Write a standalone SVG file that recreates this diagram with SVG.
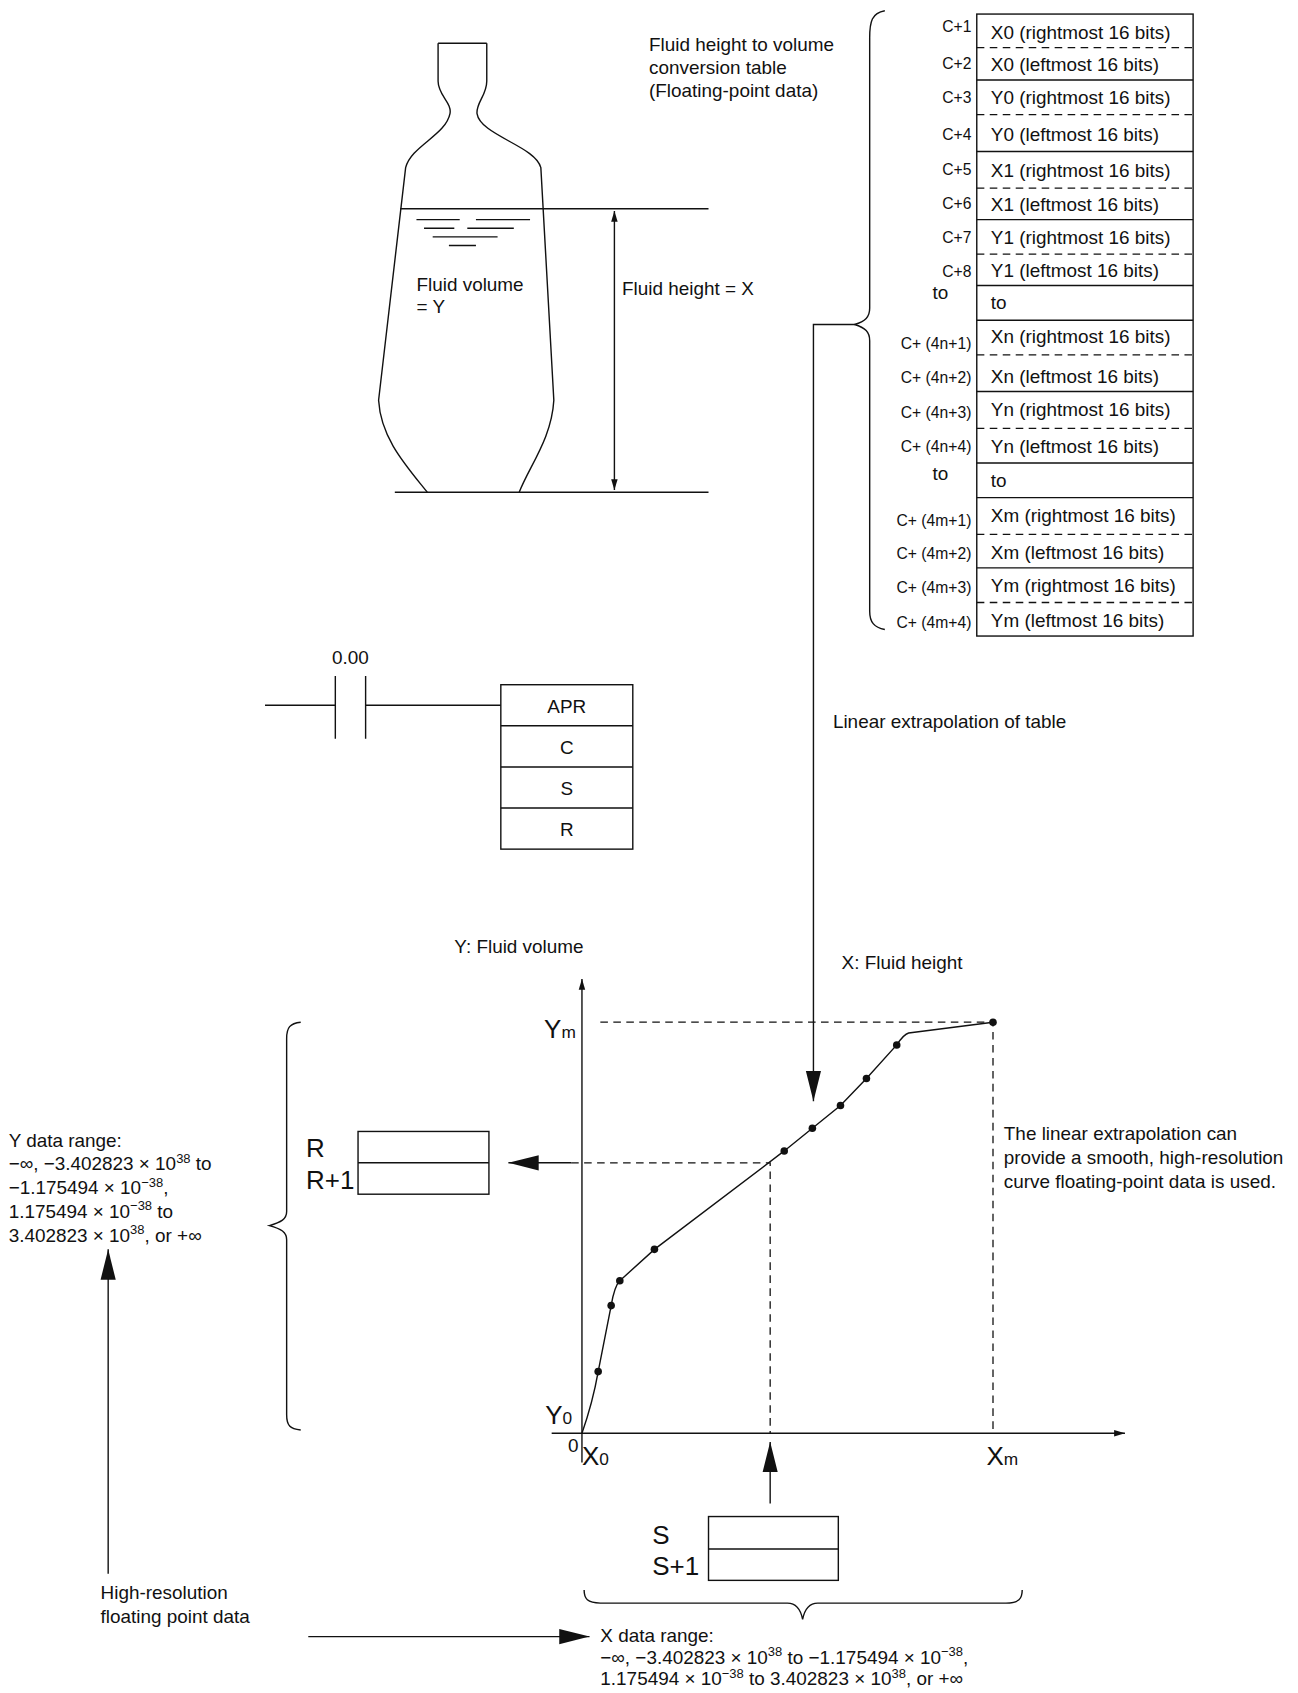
<svg xmlns="http://www.w3.org/2000/svg" width="1298" height="1693" viewBox="0 0 1298 1693">
<style>
text{font-family:"Liberation Sans",Arial,sans-serif;font-size:17.5px;fill:#111}
.l{fill:none;stroke:#111;stroke-width:1.3}
.d{fill:none;stroke:#111;stroke-width:1.2;stroke-dasharray:7,5}
.c{font-size:14.5px;text-anchor:end}
.m{text-anchor:middle}
.big{font-size:24px}
</style>
<defs>
<marker id="a" viewBox="0 0 10 10" refX="10" refY="5" markerWidth="10" markerHeight="10" markerUnits="userSpaceOnUse" orient="auto"><path d="M0,2 L10,5 L0,8 z" fill="#111"/></marker>
<marker id="A" viewBox="0 0 10 10" refX="10" refY="5" markerWidth="28" markerHeight="28" markerUnits="userSpaceOnUse" orient="auto"><path d="M0,2.5 L10,5 L0,7.5 z" fill="#111"/></marker>
<marker id="as" viewBox="0 0 10 10" refX="0" refY="5" markerWidth="10" markerHeight="10" markerUnits="userSpaceOnUse" orient="auto"><path d="M10,2 L0,5 L10,8 z" fill="#111"/></marker>
</defs>
<rect width="1298" height="1693" fill="#fff"/>
<g transform="scale(1.0817)">
<g id="bottle">
<path class="l" d="M405,40 L405,75 C405,88 418,95 416,105 C412,125 380,135 375,155 L350,370 C352,405 375,430 395,455"/>
<path class="l" d="M450,40 L450,75 C450,88 440,95 441,105 C444,125 495,135 500,155 L512,370 C510,405 490,430 480,455"/>
<line class="l" x1="405" y1="40" x2="450" y2="40"/>
<line class="l" x1="370" y1="193" x2="655" y2="193"/>
<line class="l" x1="365" y1="455" x2="655" y2="455"/>
<path class="l" d="M385,203 H425 M440,203 H490 M392,211 H420 M432,211 H475 M400,219 H460 M415,227 H440"/>
<text x="385" y="269">Fluid volume</text>
<text x="385" y="289">= Y</text>
<line class="l" x1="568" y1="195" x2="568" y2="453" marker-start="url(#as)" marker-end="url(#a)"/>
<text x="575" y="273">Fluid height = X</text>
</g>
<g id="title">
<text x="600" y="47">Fluid height to volume</text>
<text x="600" y="68">conversion table</text>
<text x="600" y="90">(Floating-point data)</text>
</g>
<g id="table">
<rect class="l" x="903" y="13" width="200" height="575"/>
<path class="l" d="M903,74 H1103 M903,140 H1103 M903,203 H1103 M903,264 H1103 M903,296 H1103 M903,362 H1103 M903,428 H1103 M903,460 H1103 M903,525 H1103"/>
<path class="d" d="M903,44 H1103 M903,106 H1103 M903,174 H1103 M903,235 H1103 M903,328 H1103 M903,396 H1103 M903,494 H1103 M903,557 H1103"/>
<text x="916" y="36">X0 (rightmost 16 bits)</text>
<text x="916" y="66">X0 (leftmost 16 bits)</text>
<text x="916" y="96">Y0 (rightmost 16 bits)</text>
<text x="916" y="130">Y0 (leftmost 16 bits)</text>
<text x="916" y="164">X1 (rightmost 16 bits)</text>
<text x="916" y="195">X1 (leftmost 16 bits)</text>
<text x="916" y="226">Y1 (rightmost 16 bits)</text>
<text x="916" y="256">Y1 (leftmost 16 bits)</text>
<text x="916" y="286">to</text>
<text x="916" y="317">Xn (rightmost 16 bits)</text>
<text x="916" y="354">Xn (leftmost 16 bits)</text>
<text x="916" y="385">Yn (rightmost 16 bits)</text>
<text x="916" y="419">Yn (leftmost 16 bits)</text>
<text x="916" y="450">to</text>
<text x="916" y="483">Xm (rightmost 16 bits)</text>
<text x="916" y="517">Xm (leftmost 16 bits)</text>
<text x="916" y="547">Ym (rightmost 16 bits)</text>
<text x="916" y="580">Ym (leftmost 16 bits)</text>
<text class="c" x="898" y="30">C+1</text>
<text class="c" x="898" y="64">C+2</text>
<text class="c" x="898" y="95">C+3</text>
<text class="c" x="898" y="129">C+4</text>
<text class="c" x="898" y="162">C+5</text>
<text class="c" x="898" y="193">C+6</text>
<text class="c" x="898" y="225">C+7</text>
<text class="c" x="898" y="256">C+8</text>
<text x="862" y="276">to</text>
<text class="c" x="898" y="323">C+ (4n+1)</text>
<text class="c" x="898" y="354">C+ (4n+2)</text>
<text class="c" x="898" y="386">C+ (4n+3)</text>
<text class="c" x="898" y="418">C+ (4n+4)</text>
<text x="862" y="444">to</text>
<text class="c" x="898" y="486">C+ (4m+1)</text>
<text class="c" x="898" y="517">C+ (4m+2)</text>
<text class="c" x="898" y="548">C+ (4m+3)</text>
<text class="c" x="898" y="581">C+ (4m+4)</text>
<path class="l" d="M818,10 C806,12 804,20 804,35 L804,285 C804,293 800,297 790,300 C800,303 804,307 804,315 L804,565 C804,575 808,580 818,582"/>
</g>
<g id="ladder">
<path class="l" d="M245,652 H310 M310,625 V683 M338,625 V683 M338,652 H463"/>
<text x="307" y="614">0.00</text>
<rect class="l" x="463" y="633" width="122" height="152"/>
<path class="l" d="M463,671 H585 M463,709 H585 M463,747 H585"/>
<text class="m" x="524" y="659">APR</text>
<text class="m" x="524" y="697">C</text>
<text class="m" x="524" y="735">S</text>
<text class="m" x="524" y="773">R</text>
</g>
<text x="770" y="673">Linear extrapolation of table</text>
<g id="graph">
<line class="l" x1="538" y1="1352" x2="538" y2="905" marker-end="url(#a)"/>
<line class="l" x1="510" y1="1325" x2="1040" y2="1325" marker-end="url(#a)"/>
<text x="420" y="881">Y: Fluid volume</text>
<text x="778" y="896">X: Fluid height</text>
<text class="big" x="503" y="960">Y<tspan font-size="16">m</tspan></text>
<text class="big" x="504" y="1316">Y<tspan font-size="16">0</tspan></text>
<text x="525" y="1342" font-size="14">0</text>
<text class="big" x="538" y="1354">X<tspan font-size="16">0</tspan></text>
<text class="big" x="912" y="1354">X<tspan font-size="16">m</tspan></text>
<path class="d" d="M555,945 H918 V1325 M528,1075 H712 V1325"/>
<path class="l" d="M538,1325 C545,1305 550,1285 553,1268 L565,1207 C567,1195 569,1188 573,1184 L605,1155 L725,1064 L751,1043 L777,1022 L801,997 L829,966 C833,960 836,956 840,955 L918,945"/>
<g fill="#111">
<circle cx="553" cy="1268" r="3.5"/><circle cx="565" cy="1207" r="3.5"/><circle cx="573" cy="1184" r="3.5"/><circle cx="605" cy="1155" r="3.5"/><circle cx="725" cy="1064" r="3.5"/><circle cx="751" cy="1043" r="3.5"/><circle cx="777" cy="1022" r="3.5"/><circle cx="801" cy="997" r="3.5"/><circle cx="829" cy="966" r="3.5"/><circle cx="918" cy="945" r="3.5"/>
</g>
<text x="928" y="1054">The linear extrapolation can</text>
<text x="928" y="1076">provide a smooth, high-resolution</text>
<text x="928" y="1098">curve floating-point data is used.</text>
</g>
<g id="rbox">
<rect class="l" x="331" y="1046" width="121" height="58"/>
<line class="l" x1="331" y1="1075" x2="452" y2="1075"/>
<text class="big" x="283" y="1070">R</text>
<text class="big" x="283" y="1099">R+1</text>
</g>
<g id="sbox">
<rect class="l" x="655" y="1402" width="120" height="59"/>
<line class="l" x1="655" y1="1432" x2="775" y2="1432"/>
<text class="big" x="603" y="1427">S</text>
<text class="big" x="603" y="1456">S+1</text>
</g>
<g id="yrange">
<text x="8" y="1060">Y data range:</text>
<text x="8" y="1082">−∞, −3.402823 × 10<tspan dy="-7" font-size="12">38</tspan><tspan dy="7"> to</tspan></text>
<text x="8" y="1104">−1.175494 × 10<tspan dy="-7" font-size="12">−38</tspan><tspan dy="7">,</tspan></text>
<text x="8" y="1126">1.175494 × 10<tspan dy="-7" font-size="12">−38</tspan><tspan dy="7"> to</tspan></text>
<text x="8" y="1148">3.402823 × 10<tspan dy="-7" font-size="12">38</tspan><tspan dy="7">, or +∞</tspan></text>
<path class="l" d="M278,945 C268,946 265,950 265,960 L265,1120 C265,1127 260,1130 249,1133 C260,1136 265,1139 265,1146 L265,1308 C265,1318 268,1321 278,1322"/>
</g>
<g id="hires">
<text x="93" y="1478">High-resolution</text>
<text x="93" y="1500">floating point data</text>
</g>
<g id="xrange">
<text x="555" y="1518">X data range:</text>
<text x="555" y="1538">−∞, −3.402823 × 10<tspan dy="-7" font-size="12">38</tspan><tspan dy="7"> to −1.175494 × 10</tspan><tspan dy="-7" font-size="12">−38</tspan><tspan dy="7">,</tspan></text>
<text x="555" y="1558">1.175494 × 10<tspan dy="-7" font-size="12">−38</tspan><tspan dy="7"> to 3.402823 × 10</tspan><tspan dy="-7" font-size="12">38</tspan><tspan dy="7">, or +∞</tspan></text>
<path class="l" d="M540,1470 C540,1478 543,1482 555,1482 L728,1482 C736,1482 740,1487 742,1497 C744,1487 748,1482 756,1482 L930,1482 C942,1482 945,1478 945,1470"/>
</g>
<g id="connectors">
<path class="l" d="M790,300 H752 V1018" marker-end="url(#A)"/>
<line class="l" x1="528" y1="1075" x2="470" y2="1075" marker-end="url(#A)"/>
<line class="l" x1="712" y1="1390" x2="712" y2="1333" marker-end="url(#A)"/>
<line class="l" x1="100" y1="1455" x2="100" y2="1155" marker-end="url(#A)"/>
<line class="l" x1="285" y1="1513" x2="545" y2="1513" marker-end="url(#A)"/>
</g>
</g>
</svg>
